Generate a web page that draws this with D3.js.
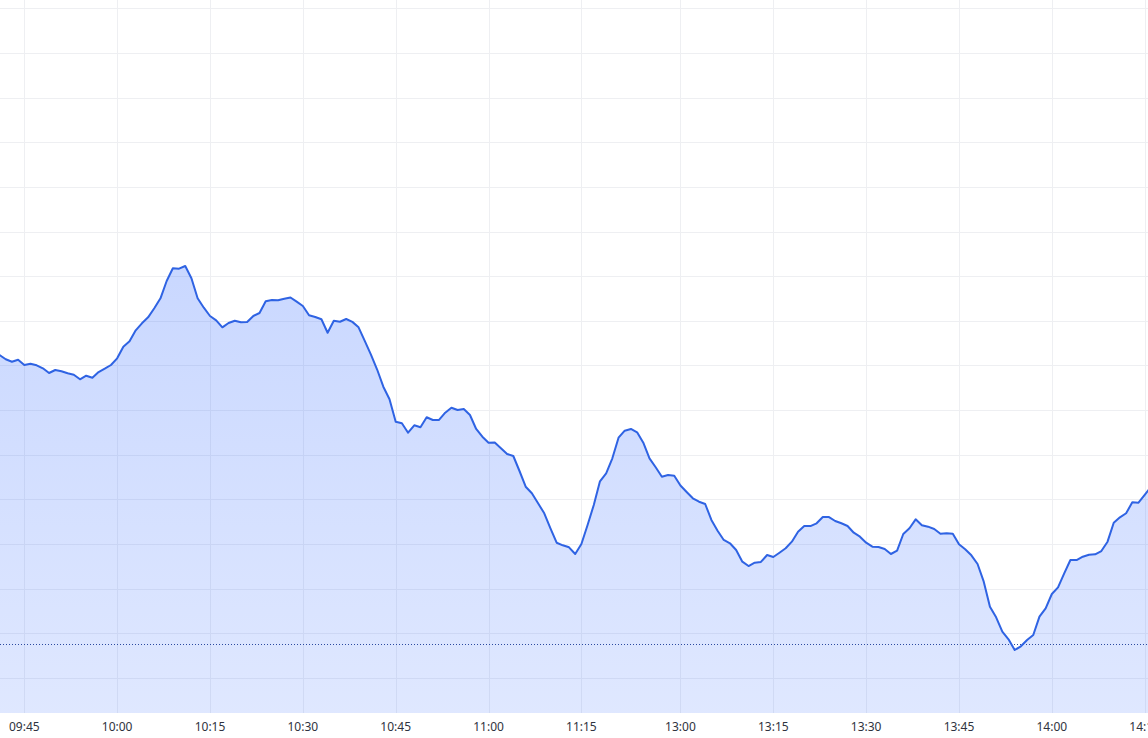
<!DOCTYPE html>
<html>
<head>
<meta charset="utf-8">
<script src="https://cdn.jsdelivr.net/npm/d3@7"></script>
<style>
  html, body { margin: 0; padding: 0; background: #ffffff; }
  svg { display: block; }
</style>
</head>
<body>
<div id="chart"></div>
<script>
// ---- data ----
// trading sessions (one point per minute)
const sessions = [["09:41", "11:30"], ["13:00", "14:16"]];
const prices = [
  3352.34, 3351.38, 3350.84, 3351.29, 3350.10, 3350.39, 3350.03, 3349.36, 3348.31, 3348.98,
  3348.69, 3348.24, 3347.93, 3346.90, 3347.70, 3347.26, 3348.53, 3349.27, 3350.10, 3351.60,
  3354.20, 3355.41, 3357.87, 3359.44, 3360.78, 3362.80, 3365.04, 3368.91, 3371.76, 3371.67,
  3372.27, 3369.52, 3365.04, 3362.93, 3361.08, 3360.11, 3358.54, 3359.51, 3360.02, 3359.69,
  3359.72, 3361.08, 3361.75, 3364.39, 3364.66, 3364.59, 3364.93, 3365.22, 3364.28, 3363.31,
  3361.23, 3360.85, 3360.34, 3357.33, 3360.00, 3359.78, 3360.40, 3359.76, 3358.54, 3355.52,
  3352.43, 3349.09, 3345.24, 3342.42, 3337.38, 3337.04, 3334.94, 3336.60, 3336.15, 3338.39,
  3337.78, 3337.80, 3339.42, 3340.54, 3340.02, 3340.25, 3338.90, 3335.77, 3334.04, 3332.70,
  3332.72, 3331.44, 3330.17, 3329.72, 3326.36, 3322.84, 3321.37, 3319.13, 3316.89, 3313.53,
  3310.30, 3309.72, 3309.27, 3307.77, 3310.01, 3314.27, 3318.75, 3324.05, 3325.84, 3329.20,
  3333.82, 3335.39, 3335.77, 3335.03, 3332.70, 3329.20, 3327.19, 3325.08, 3325.46, 3325.31,
  3323.11, 3321.66, 3320.25, 3319.48, 3318.97, 3315.39, 3312.99, 3310.91, 3310.17, 3308.67,
  3306.05, 3305.08, 3305.82, 3306.00, 3307.55, 3307.10, 3308.06, 3309.05, 3310.53, 3312.77,
  3314.04, 3314.02, 3314.65, 3316.06, 3316.04, 3315.16, 3314.65, 3314.04, 3312.54, 3311.65,
  3310.30, 3309.41, 3309.34, 3308.89, 3307.77, 3308.51, 3312.25, 3313.53, 3315.54, 3314.20,
  3313.89, 3313.37, 3312.32, 3312.41, 3312.30, 3309.94, 3308.82, 3307.48, 3305.53, 3301.57,
  3295.97, 3293.59, 3290.37, 3288.67, 3286.27, 3287.10, 3288.51, 3289.63, 3293.73, 3295.61,
  3298.81, 3300.31, 3303.45, 3306.43, 3306.40, 3307.17, 3307.61, 3307.70, 3308.44, 3310.53,
  3314.78, 3315.99, 3316.89, 3319.35, 3319.26, 3320.99, 3322.78
];
const prevClose = 3287.55;
const timeTicks = ["09:45", "10:00", "10:15", "10:30", "10:45", "11:00", "11:15",
                   "13:00", "13:15", "13:30", "13:45", "14:00", "14:15"];
const priceTicks = [3280, 3290, 3300, 3310, 3320, 3330, 3340, 3350,
                    3360, 3370, 3380, 3390, 3400, 3410, 3420, 3430];

// ---- build minute labels ----
function toMin(s) { const [h, m] = s.split(":").map(Number); return h * 60 + m; }
function fmt(m) { return String(Math.floor(m / 60)).padStart(2, "0") + ":" + String(m % 60).padStart(2, "0"); }
const times = [];
sessions.forEach(([a, b]) => { for (let m = toMin(a); m <= toMin(b); m++) times.push(fmt(m)); });
const data = prices.map((p, i) => ({ i, t: times[i], p }));

// ---- layout ----
const W = 1148, H = 738;
const plotBottom = 713;
const barSpacing = 6.19;
const x0 = -0.46;

const x = d3.scaleLinear().domain([0, data.length - 1]).range([x0, x0 + barSpacing * (data.length - 1)]);
const y = d3.scaleLinear().domain([3272.16, 3431.85]).range([plotBottom, 0]);

const svg = d3.select("#chart").append("svg").attr("width", W).attr("height", H);

const defs = svg.append("defs");
defs.append("clipPath").attr("id", "plotClip")
  .append("rect").attr("x", 0).attr("y", 0).attr("width", W).attr("height", plotBottom);

const minY = y(d3.max(prices));
const grad = defs.append("linearGradient").attr("id", "areaGrad")
  .attr("gradientUnits", "userSpaceOnUse")
  .attr("x1", 0).attr("x2", 0).attr("y1", minY).attr("y2", plotBottom);
grad.append("stop").attr("offset", "0%").attr("stop-color", "rgba(41,98,255,0.25)");
grad.append("stop").attr("offset", "100%").attr("stop-color", "rgba(41,98,255,0.15)");

// grid
const grid = svg.append("g").attr("clip-path", "url(#plotClip)");
grid.selectAll(".hg").data(priceTicks).enter().append("line")
  .attr("x1", 0).attr("x2", W)
  .attr("y1", d => Math.round(y(d)) + 0.5).attr("y2", d => Math.round(y(d)) + 0.5)
  .attr("stroke", "#eeeff2").attr("stroke-width", 1);

const tickIdx = timeTicks.map(t => ({ t, i: times.indexOf(t) })).filter(d => d.i >= 0);
grid.selectAll(".vg").data(tickIdx).enter().append("line")
  .attr("x1", d => Math.round(x(d.i)) + 0.5).attr("x2", d => Math.round(x(d.i)) + 0.5)
  .attr("y1", 0).attr("y2", plotBottom)
  .attr("stroke", "#eeeff2").attr("stroke-width", 1);

// area + line
const plot = svg.append("g").attr("clip-path", "url(#plotClip)");
plot.append("path").datum(data)
  .attr("d", d3.area().x(d => x(d.i)).y0(plotBottom).y1(d => y(d.p)))
  .attr("fill", "url(#areaGrad)");

plot.append("line")
  .attr("x1", 0).attr("x2", W)
  .attr("y1", Math.round(y(prevClose)) + 0.5).attr("y2", Math.round(y(prevClose)) + 0.5)
  .attr("stroke", "#2b4aa0").attr("stroke-width", 1).attr("stroke-dasharray", "1,2");

plot.append("path").datum(data)
  .attr("d", d3.line().x(d => x(d.i)).y(d => y(d.p)))
  .attr("fill", "none").attr("stroke", "#2f63e3").attr("stroke-width", 2)
  .attr("stroke-linejoin", "round");

// time axis
const axis = svg.append("g");
axis.selectAll("text").data(tickIdx).enter().append("text")
  .attr("x", d => x(d.i)).attr("y", 731)
  .attr("text-anchor", "middle")
  .attr("font-family", "'Noto Sans', 'DejaVu Sans', sans-serif")
  .attr("font-size", 12).attr("fill", "#2f3340")
  .text(d => d.t);
</script>
</body>
</html>
